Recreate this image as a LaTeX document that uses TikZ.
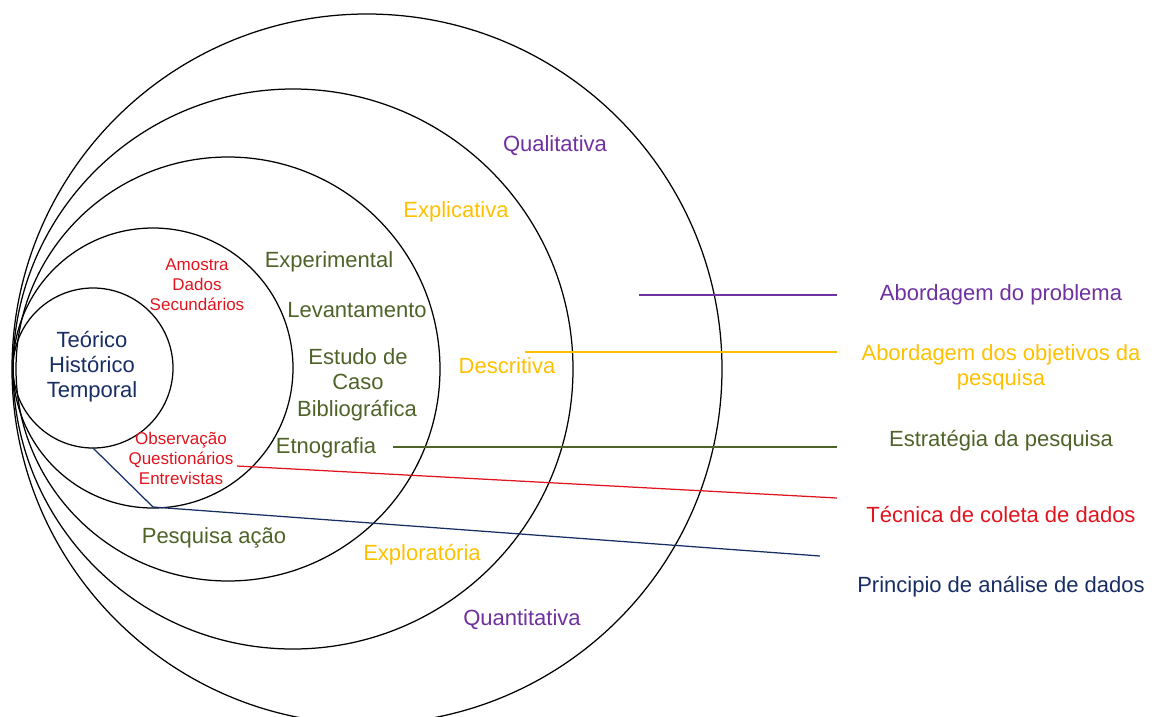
\documentclass[tikz,border=0pt]{standalone}
\usepackage{fontspec}
\setmainfont{Liberation Sans}
\usepackage{tikz}
\usetikzlibrary{positioning}
\usepackage{color}
\definecolor{roxo}{RGB}{112, 48, 160}
\definecolor{amarelo}{RGB}{255, 192, 0}
\definecolor{verde}{RGB}{79, 98, 40}
\definecolor{vermelho}{RGB}{225, 20, 30}
\definecolor{marinho}{RGB}{23, 45, 100}

\begin{document}
\begin{tikzpicture}[x=1pt, y=-1pt,
            rotulo/.style={align=center, inner sep=0pt, font=\fontsize{22}{25}\selectfont},
            miudo/.style={align=center, inner sep=0pt, font=\fontsize{17}{20}\selectfont},
            linha/.style={line width=1.25pt}]
            \useasboundingbox (0,0) rectangle (1152,716);
            \draw[linha, black]( 367, 369) circle (355pt);
            \draw[linha, black]( 293, 369) circle (280pt);
            \draw[linha, black]( 228, 369) circle (212pt);
            \draw[linha, black]( 153, 368) circle (140pt);
            \draw[linha, black]( 93, 368) circle (80pt);

            \node[rotulo, text=marinho]  (teorico)  at ( 92, 367) {Teórico\\Histórico\\Temporal};
            \node[miudo,  text=vermelho] (amostra)  at (197, 285) {Amostra\\Dados\\Secundários};
            \node[miudo,  text=vermelho] (observ)   at (181, 458) {Observação\\Questionários\\Entrevistas};
            \node[rotulo, text=verde]    (exper)    at (329, 262) {Experimental};
            \node[rotulo, text=verde]    (levant)   at (357, 310) {Levantamento};
            \node[rotulo, text=verde]    (estudo)   at (358, 369) {Estudo de\\Caso};
            \node[rotulo, text=verde]    (biblio)   at (357, 411) {Bibliográfica};
            \node[rotulo, text=verde]    (etno)     at (326, 448) {Etnografia};
            \node[rotulo, text=verde]    (pesqacao) at (214, 538) {Pesquisa ação};
            \node[rotulo, text=amarelo]  (explic)   at (456, 212) {Explicativa};
            \node[rotulo, text=amarelo]  (descr)    at (507, 366) {Descritiva};
            \node[rotulo, text=amarelo]  (explor)   at (422, 555) {Exploratória};
            \node[rotulo, text=roxo]     (qualit)   at (555, 146) {Qualitativa};
            \node[rotulo, text=roxo]     (quantit)  at (522, 620) {Quantitativa};

            \node[rotulo, text=roxo]     (lprob)    at (1001, 295) {Abordagem do problema};
            \node[rotulo, text=amarelo]  (lobj)     at (1001, 367) {Abordagem dos objetivos da\\pesquisa};
            \node[rotulo, text=verde]    (lestr)    at (1001, 441) {Estratégia da pesquisa};
            \node[rotulo, text=vermelho] (ltec)     at (1001, 514) {Técnica de coleta de dados};
            \node[rotulo, text=marinho]  (lprin)    at (1001, 587) {Principio de análise de dados};

            \coordinate (iprob) at (639, 295);  \coordinate (fprob) at (837, 295);
            \coordinate (iobj)  at (525, 352);  \coordinate (fobj)  at (837, 352);
            \coordinate (iestr) at (393, 447);  \coordinate (festr) at (837, 447);
            \coordinate (itec)  at (237, 466);  \coordinate (ftec)  at (837, 498);
            \coordinate (iprin) at ( 93, 448);  \coordinate (cprin) at (153, 507);
            \coordinate (fprin) at (820, 556);

            \draw[linha, roxo]     (iprob) -- (fprob);
            \draw[linha, amarelo]  (iobj)  -- (fobj);
            \draw[linha, verde]    (iestr) -- (festr);
            \draw[linha, vermelho] (itec)  -- (ftec);
            \draw[linha, marinho]  (iprin) -- (cprin) -- (fprin);
        \end{tikzpicture}
\end{document}
